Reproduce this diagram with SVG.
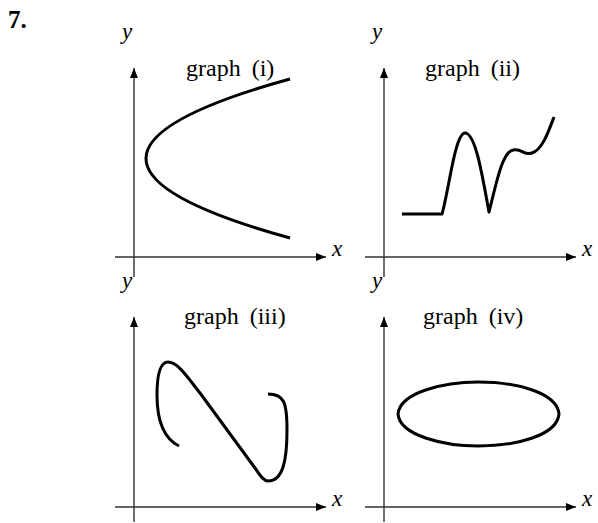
<svg xmlns="http://www.w3.org/2000/svg" width="598" height="523" viewBox="0 0 598 523">
<defs>
<marker id="arr" viewBox="0 0 10 8" refX="10" refY="4" markerWidth="10" markerHeight="8" markerUnits="userSpaceOnUse" orient="auto">
<path d="M0,0 L10,4 L0,8 Z" fill="#000"/>
</marker>
</defs>
<style>
.ax{stroke:#333;stroke-width:1.4;fill:none}
.cv{stroke:#000;stroke-width:3;fill:none;stroke-linecap:butt;stroke-linejoin:round}
.lbl{font-family:"Liberation Serif","Times New Roman",serif;font-style:italic;font-size:23px;fill:#000}
.ttl{font-family:"Liberation Serif","Times New Roman",serif;font-size:24px;fill:#000;word-spacing:5px}
.num{font-family:"Liberation Serif","Times New Roman",serif;font-weight:bold;font-size:25px;fill:#000}
</style>
<rect width="598" height="523" fill="#fff"/>
<text class="num" x="8" y="28">7.</text>
<g id="connectors">
<line class="ax" x1="134" y1="277" x2="134" y2="68" marker-end="url(#arr)"/>
<line class="ax" x1="115" y1="257" x2="326" y2="257" marker-end="url(#arr)"/>
<line class="ax" x1="384" y1="277" x2="384" y2="68" marker-end="url(#arr)"/>
<line class="ax" x1="365" y1="257" x2="576" y2="257" marker-end="url(#arr)"/>
<line class="ax" x1="134" y1="522" x2="134" y2="317" marker-end="url(#arr)"/>
<line class="ax" x1="115" y1="507" x2="326" y2="507" marker-end="url(#arr)"/>
<line class="ax" x1="384" y1="522" x2="384" y2="317" marker-end="url(#arr)"/>
<line class="ax" x1="365" y1="507" x2="576" y2="507" marker-end="url(#arr)"/>
</g>
<g id="graph1">
<text class="lbl" x="122" y="39">y</text>
<text class="lbl" x="332" y="256">x</text>
<text class="ttl" x="186" y="76">graph (i)</text>
<path class="cv" d="M290,79 Q2,158.5 290,238"/>
</g>
<g id="graph2">
<text class="lbl" x="372" y="39">y</text>
<text class="lbl" x="582" y="256">x</text>
<text class="ttl" x="425" y="76">graph (ii)</text>
<path class="cv" d="M402,214 L442,214 C449,190 455,133 465,133 C476,133 483,180 489,212 C496,185 502,152 513,150 C522,148 524,156 532,153 C542,150 548,133 554,117"/>
</g>
<g id="graph3">
<text class="lbl" x="122" y="288">y</text>
<text class="lbl" x="332" y="506">x</text>
<text class="ttl" x="184" y="324">graph (iii)</text>
<path class="cv" d="M179,446 C163,438 157,420 157,395 C157,375 160,362 168,362 C178,362 188,378 200,393 L255,468 C260,475 263,481 268,481 C283,481 287,460 287,430 C287,402 284,394 268,394"/>
</g>
<g id="graph4">
<text class="lbl" x="372" y="288">y</text>
<text class="lbl" x="582" y="506">x</text>
<text class="ttl" x="423" y="324">graph (iv)</text>
<path class="cv" d="M398,414 C400,392 445,382 478,382 C515,382 557,392 559,414 C557,436 515,446 478,446 C445,446 400,436 398,414 Z"/>
</g>
</svg>
